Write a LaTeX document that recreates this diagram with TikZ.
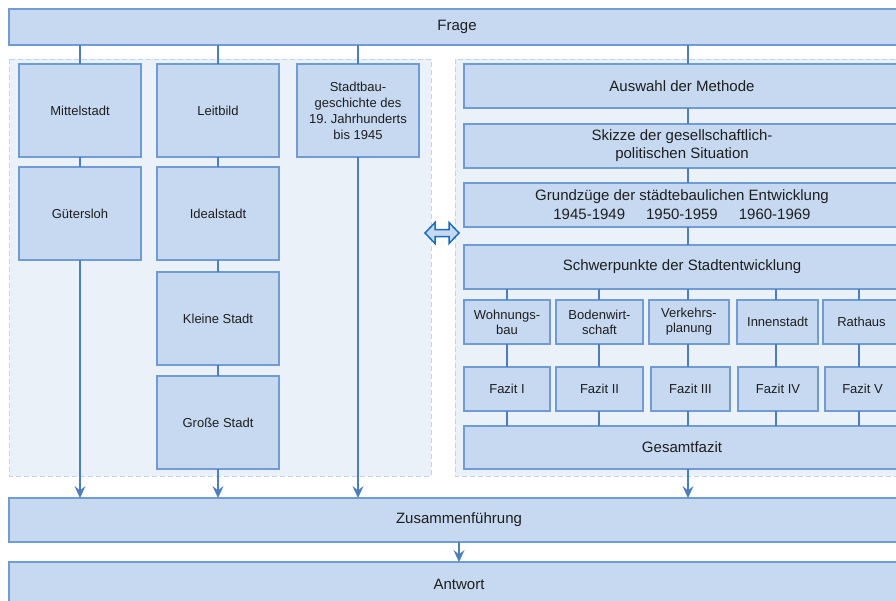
\documentclass[tikz,border=0pt]{standalone}
\usepackage{fontspec}
\setmainfont{Liberation Sans}
\usetikzlibrary{arrows.meta}
\definecolor{boxfill}{RGB}{198,217,240}
\definecolor{boxline}{RGB}{112,156,214}
\definecolor{conn}{RGB}{74,126,190}
\definecolor{contfill}{RGB}{235,241,249}
\definecolor{contline}{RGB}{190,212,240}
\definecolor{dblue}{RGB}{20,110,195}
\definecolor{txt}{RGB}{30,30,30}
\frenchspacing
\tikzset{
  box/.style={draw=boxline, fill=boxfill, line width=1.2pt, inner sep=0pt, outer sep=0pt,
    align=center, text=txt, font=\fontsize{15}{18}\selectfont},
  sbox/.style={box, font=\fontsize{13}{15}\selectfont},
  lbox/.style={box, font=\fontsize{13}{16}\selectfont},
  cont/.style={draw=contline, fill=contfill, line width=1pt, dash pattern=on 5pt off 3pt},
  link/.style={draw=conn, line width=1.5pt},
  arr/.style={link, -{Stealth[length=12pt,width=11pt,inset=4.5pt]}},
}
\begin{document}
\begin{tikzpicture}[x=1pt,y=-1pt]
\path[use as bounding box] (0,0) rectangle (896,600);
\clip (0,0) rectangle (896,600);
\fill[white] (0,0) rectangle (896,600);
% containers
\path[cont] (9,59) rectangle (431,476);
\path[cont] (455,59) rectangle (930,476);
% top and bottom
\node[box, minimum width=896pt, minimum height=36pt] (frage) at (457,27) {Frage};
\node[box, minimum width=900pt, minimum height=44pt] (zus) at (459,520) {Zusammenführung};
\node[box, minimum width=900pt, minimum height=44pt] (antw) at (459,584) {Antwort};
% left column
\node[lbox, minimum width=122pt, minimum height=93pt] (mittel) at (80,110.5) {Mittelstadt};
\node[lbox, minimum width=122pt, minimum height=93pt] (leit) at (218,110.5) {Leitbild};
\node[lbox, minimum width=122pt, minimum height=93pt] (stadtbau) at (358,110.5) {Stadtbau-\\geschichte des\\19. Jahrhunderts\\bis 1945};
\node[lbox, minimum width=122pt, minimum height=93pt] (guet) at (80,213.5) {Gütersloh};
\node[lbox, minimum width=122pt, minimum height=93pt] (ideal) at (218,213.5) {Idealstadt};
\node[lbox, minimum width=122pt, minimum height=93pt] (klein) at (218,318.5) {Kleine Stadt};
\node[lbox, minimum width=122pt, minimum height=93pt] (gross) at (218,422.5) {Große Stadt};
% right column
\node[box, minimum width=436pt, minimum height=44pt] (ausw) at (682,86) {Auswahl der Methode};
\node[box, minimum width=436pt, minimum height=44pt] (skizze) at (682,146) {Skizze der gesellschaftlich-\\politischen Situation};
\node[box, minimum width=436pt, minimum height=44pt, font=\fontsize{15}{19}\selectfont] (grund) at (682,205) {Grundzüge der städtebaulichen Entwicklung\\1945-1949\hspace{21pt}1950-1959\hspace{21pt}1960-1969};
\node[box, minimum width=436pt, minimum height=44pt] (schwer) at (682,267) {Schwerpunkte der Stadtentwicklung};
\node[sbox, minimum width=86pt, minimum height=44pt] (s1) at (507,322) {Wohnungs-\\bau};
\node[sbox, minimum width=87pt, minimum height=44pt] (s2) at (599.5,322) {Bodenwirt-\\schaft};
\node[sbox, minimum width=80pt, minimum height=44pt] (s3) at (689,322) {Verkehrs-\\planung};
\node[sbox, minimum width=81pt, minimum height=44pt] (s4) at (777.5,322) {Innenstadt};
\node[sbox, minimum width=77pt, minimum height=44pt] (s5) at (861.5,322) {Rathaus};
\node[sbox, minimum width=86pt, minimum height=44pt] (f1) at (507,389) {Fazit I};
\node[sbox, minimum width=87pt, minimum height=44pt] (f2) at (599.5,389) {Fazit II};
\node[sbox, minimum width=79pt, minimum height=44pt] (f3) at (690.5,389) {Fazit III};
\node[sbox, minimum width=80pt, minimum height=44pt] (f4) at (778,389) {Fazit IV};
\node[sbox, minimum width=75pt, minimum height=44pt] (f5) at (862.5,389) {Fazit V};
\node[box, minimum width=436pt, minimum height=43pt] (gesamt) at (682,447.5) {Gesamtfazit};
% connectors
\coordinate (cx1) at (80,0);
\coordinate (cx2) at (218,0);
\coordinate (cx3) at (358,0);
\coordinate (cx4) at (688,0);
\draw[link] (frage.south -| cx1) -- (mittel.north -| cx1);
\draw[link] (frage.south -| cx2) -- (leit.north -| cx2);
\draw[link] (frage.south -| cx3) -- (stadtbau.north -| cx3);
\draw[link] (frage.south -| cx4) -- (ausw.north -| cx4);
\draw[link] (mittel.south -| cx1) -- (guet.north -| cx1);
\draw[link] (leit.south -| cx2) -- (ideal.north -| cx2);
\draw[link] (ideal.south -| cx2) -- (klein.north -| cx2);
\draw[link] (klein.south -| cx2) -- (gross.north -| cx2);
\draw[arr] (guet.south -| cx1) -- (zus.north -| cx1);
\draw[arr] (gross.south -| cx2) -- (zus.north -| cx2);
\draw[arr] (stadtbau.south -| cx3) -- (zus.north -| cx3);
\draw[link] (ausw.south -| cx4) -- (skizze.north -| cx4);
\draw[link] (skizze.south -| cx4) -- (grund.north -| cx4);
\draw[link] (grund.south -| cx4) -- (schwer.north -| cx4);
\coordinate (k1) at (507,0);
\coordinate (k2) at (599,0);
\coordinate (k3) at (688,0);
\coordinate (k4) at (776,0);
\coordinate (k5) at (859,0);
\foreach \i in {1,...,5}{
  \draw[link] (schwer.south -| k\i) -- (s\i.north -| k\i);
  \draw[link] (s\i.south -| k\i) -- (f\i.north -| k\i);
  \draw[link] (f\i.south -| k\i) -- (gesamt.north -| k\i);
}
\draw[arr] (gesamt.south -| cx4) -- (zus.north -| cx4);
\draw[arr] (zus.south) -- (antw.north);
% double arrow
\draw[draw=dblue, fill=boxfill, line width=1.5pt, line join=miter]
  (425,233) -- (435,222.5) -- (435,229.5) -- (449,229.5) -- (449,222.5) -- (459,233)
  -- (449,243.5) -- (449,236.5) -- (435,236.5) -- (435,243.5) -- cycle;
\end{tikzpicture}
\end{document}
